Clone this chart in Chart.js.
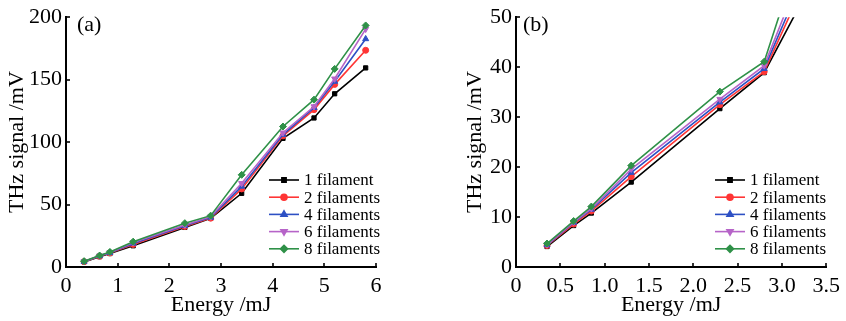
<!DOCTYPE html>
<html>
<head>
<meta charset="utf-8">
<script src="https://cdn.jsdelivr.net/npm/chart.js@4.4.1/dist/chart.umd.min.js"></script>
<style>
  html, body { margin: 0; padding: 0; background: #fff; }
  #wrap { position: relative; width: 846px; height: 321px; }
  canvas { position: absolute; top: 0; }
  #ca { left: 0; }
  #cb { left: 423px; }
</style>
</head>
<body>
<div id="wrap">
  <canvas id="ca" width="423" height="321"></canvas>
  <canvas id="cb" width="423" height="321"></canvas>
</div>
<script>
// ---- data ----
const energy = [0.35, 0.65, 0.85, 1.3, 2.3, 2.8, 3.4, 4.2, 4.8, 5.2, 5.8];
const seriesNames = ['1 filament', '2 filaments', '4 filaments', '6 filaments', '8 filaments'];
const fil1 = [4.1, 8.3, 10.8, 17.0, 31.7, 38.9, 59.0, 103.0, 119.3, 138.7, 159.4];
const fil2 = [4.3, 8.6, 11.2, 18.1, 32.5, 39.1, 62.5, 105.0, 126.0, 146.2, 173.5];
const fil4 = [4.4, 8.9, 11.5, 18.9, 33.0, 39.7, 64.5, 106.0, 127.5, 148.5, 182.6];
const fil6 = [4.5, 9.0, 11.7, 19.6, 33.6, 40.3, 67.0, 107.5, 128.5, 150.7, 190.5];
const fil8 = [4.7, 9.2, 12.1, 20.3, 35.1, 41.1, 73.8, 112.5, 134.0, 158.6, 193.4];
const xTicksA = ['0', '1', '2', '3', '4', '5', '6'];
const yTicksA = ['0', '50', '100', '150', '200'];
const xTicksB = ['0', '0.5', '1.0', '1.5', '2.0', '2.5', '3.0', '3.5'];
const yTicksB = ['0', '10', '20', '30', '40', '50'];

// ---- styles ----
const SERIF = '"Liberation Serif", "DejaVu Serif", serif';
const colors = ['#000000', '#ff3535', '#2d50c4', '#b664c8', '#2f9148'];
const pStyles = ['rect', 'circle', 'triangle', 'triangle', 'rectRot'];
const pRot = [0, 0, 0, 180, 0];
const pRad = [3, 3, 3.5, 3.5, 3.5];
const allSeries = [fil1, fil2, fil4, fil6, fil8];

function makeDatasets() {
  return allSeries.map((vals, i) => ({
    label: seriesNames[i],
    data: energy.map((x, j) => ({ x: x, y: vals[j] })),
    borderColor: colors[i],
    backgroundColor: colors[i],
    pointBackgroundColor: colors[i],
    pointBorderColor: colors[i],
    pointStyle: pStyles[i],
    pointRotation: pRot[i],
    pointRadius: pRad[i],
    pointBorderWidth: 1,
    borderWidth: 1.6,
    tension: 0,
    clip: 0,
    order: 5 - i
  }));
}

const inwardTicks = {
  id: 'inwardTicks',
  afterDatasetsDraw(chart) {
    const ctx = chart.ctx;
    const a = chart.chartArea;
    ctx.save();
    ctx.strokeStyle = '#000';
    ctx.lineWidth = 1.6;
    const xs = chart.scales.x, ys = chart.scales.y;
    xs.ticks.forEach(t => {
      const px = Math.round(xs.getPixelForValue(t.value));
      ctx.beginPath(); ctx.moveTo(px, a.bottom); ctx.lineTo(px, a.bottom - 4); ctx.stroke();
    });
    ys.ticks.forEach(t => {
      const py = Math.round(ys.getPixelForValue(t.value));
      ctx.beginPath(); ctx.moveTo(a.left, py); ctx.lineTo(a.left + 4, py); ctx.stroke();
    });
    ctx.restore();
  }
};

const innerLegend = {
  id: 'innerLegend',
  afterDraw(chart, args, opts) {
    const ctx = chart.ctx;
    ctx.save();
    ctx.font = '17px ' + SERIF;
    ctx.textBaseline = 'middle';
    ctx.textAlign = 'left';
    chart.data.datasets.forEach((ds, i) => {
      const y = opts.y0 + i * opts.dy;
      ctx.strokeStyle = ds.borderColor;
      ctx.lineWidth = 1.6;
      ctx.beginPath(); ctx.moveTo(opts.x0, y); ctx.lineTo(opts.x0 + 30, y); ctx.stroke();
      ctx.fillStyle = ds.backgroundColor;
      Chart.helpers.drawPoint(ctx, {
        pointStyle: ds.pointStyle, rotation: ds.pointRotation,
        radius: ds.pointRadius, borderWidth: 1
      }, opts.x0 + 15, y);
      ctx.fillStyle = '#000';
      ctx.fillText(ds.label, opts.x0 + 35, y + 1);
    });
    // panel label
    ctx.font = '22px ' + SERIF;
    ctx.fillText(opts.panel, opts.px, 25);
    ctx.restore();
  }
};

function makeChart(id, cfg) {
  return new Chart(document.getElementById(id), {
    type: 'line',
    data: { datasets: makeDatasets() },
    options: {
      responsive: false,
      animation: false,
      devicePixelRatio: 1,
      layout: { padding: { left: cfg.padLeft, right: cfg.padRight, top: 15, bottom: 0 } },
      plugins: {
        legend: { display: false },
        tooltip: { enabled: false },
        innerLegend: cfg.legend
      },
      scales: {
        x: {
          type: 'linear',
          min: cfg.xMin, max: cfg.xMax,
          ticks: {
            stepSize: cfg.xStep, color: '#000', padding: 6,
            font: { family: SERIF, size: 22 },
            autoSkip: false, maxRotation: 0,
            callback: (v, i) => cfg.xLabels[i]
          },
          grid: { display: true, drawOnChartArea: false, drawTicks: false },
          border: { display: true, color: '#000', width: 2 },
          title: {
            display: true, text: 'Energy /mJ', color: '#000',
            font: { family: SERIF, size: 22 }, padding: { top: 0, bottom: 3 }
          },
          afterFit: s => { s.height = 54; }
        },
        y: {
          type: 'linear',
          min: cfg.yMin, max: cfg.yMax,
          ticks: {
            stepSize: cfg.yStep, color: '#000', padding: 4,
            font: { family: SERIF, size: 22 },
            autoSkip: false,
            callback: (v, i) => cfg.yLabels[i]
          },
          grid: { display: true, drawOnChartArea: false, drawTicks: false },
          border: { display: true, color: '#000', width: 2 },
          title: {
            display: true, text: 'THz signal /mV', color: '#000',
            font: { family: SERIF, size: 22 }, padding: { top: cfg.yTitlePad, bottom: 0 }
          },
          afterFit: s => { s.width = cfg.yWidth; }
        }
      }
    },
    plugins: [inwardTicks, innerLegend]
  });
}

makeChart('ca', {
  padLeft: 0, padRight: 47, yWidth: 66, yTitlePad: 4,
  xMin: 0, xMax: 6, xStep: 1, yMin: 0, yMax: 200, yStep: 50,
  xLabels: xTicksA, yLabels: yTicksA,
  legend: { x0: 269, y0: 180, dy: 17.2, panel: '(a)', px: 77 }
});
makeChart('cb', {
  padLeft: 36, padRight: 17, yWidth: 57, yTitlePad: 3,
  xMin: 0, xMax: 3.5, xStep: 0.5, yMin: 0, yMax: 50, yStep: 10,
  xLabels: xTicksB, yLabels: yTicksB,
  legend: { x0: 292, y0: 180, dy: 17.2, panel: '(b)', px: 100 }
});
</script>
</body>
</html>
